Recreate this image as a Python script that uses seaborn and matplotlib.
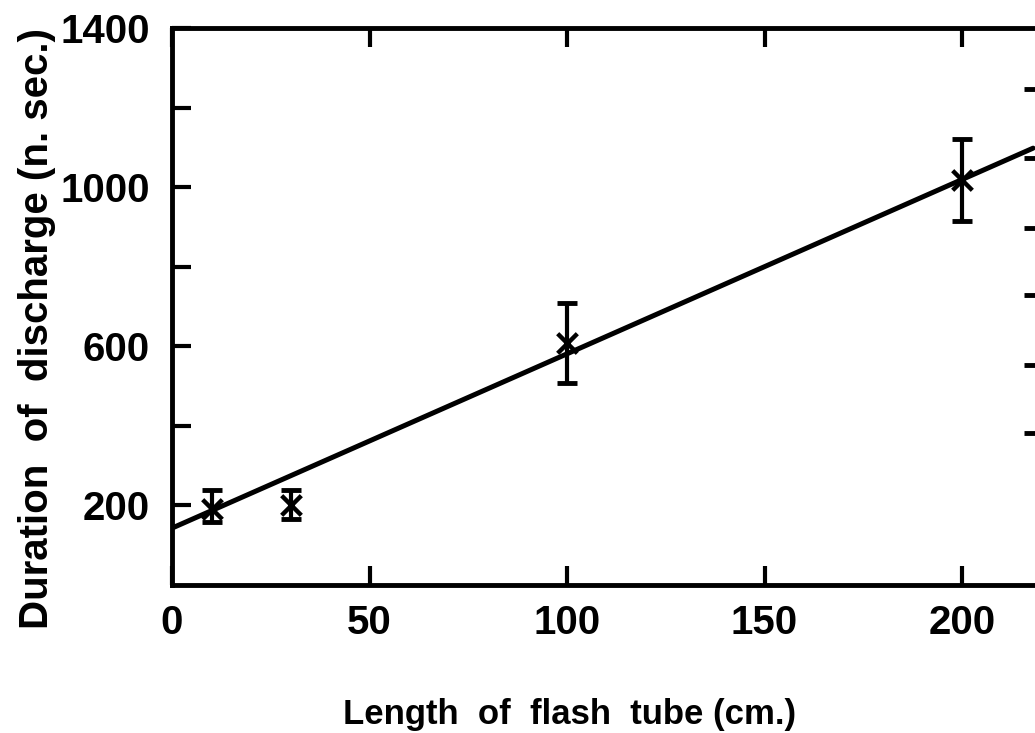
import matplotlib
matplotlib.use("Agg")
import matplotlib.pyplot as plt
import seaborn as sns
import pandas as pd

# measured points (length in cm, duration in ns) with error bar limits
length_cm = [10, 30, 100, 200]
duration_ns = [190, 200, 608, 1018]
err_low = [158, 166, 507, 915]
err_high = [239, 239, 708, 1120]

# fitted straight line, read at both ends of the x range
fit_x = [0, 218]
fit_y = [143, 1098]

# tick values
x_ticks = [0, 50, 100, 150, 200]
y_major = [200, 600, 1000, 1400]
y_minor = [400, 800, 1200]
right_ticks = [382, 553, 729, 897, 1073, 1246]

sns.set_theme(style="ticks")
plt.rcParams["font.family"] = ["Liberation Sans", "DejaVu Sans"]
plt.rcParams["font.weight"] = "bold"
plt.rcParams["axes.labelweight"] = "bold"
plt.rcParams["text.color"] = "black"
plt.rcParams["axes.labelcolor"] = "black"
plt.rcParams["xtick.color"] = "black"
plt.rcParams["ytick.color"] = "black"

fig = plt.figure(figsize=(10.35, 7.33), dpi=100)
ax = fig.add_axes([0.1662, 0.2019, 0.8396, 0.7599])

pts = pd.DataFrame({"x": length_cm, "y": duration_ns})
fit = pd.DataFrame({"x": fit_x, "y": fit_y})

# fitted line, error bars, then the x markers on top
sns.lineplot(data=fit, x="x", y="y", ax=ax, color="black", linewidth=3.6)
yerr = [[d - lo for d, lo in zip(duration_ns, err_low)],
        [hi - d for d, hi in zip(duration_ns, err_high)]]
ax.errorbar(length_cm, duration_ns, yerr=yerr, fmt="none", ecolor="black",
            elinewidth=3, capsize=7, capthick=3.5)
sns.scatterplot(data=pts, x="x", y="y", ax=ax, marker="x", s=200,
                color="black", linewidth=3.2, zorder=5)

ax.set_xlim(0, 220)
ax.set_ylim(0, 1400)
ax.set_xticks(x_ticks)
ax.set_yticks(y_major)
ax.set_yticks(y_minor, minor=True)
ax.set_xticklabels([str(v) for v in x_ticks])
ax.set_yticklabels([str(v) for v in y_major])

for side in ["left", "bottom", "top", "right"]:
    ax.spines[side].set_linewidth(3.5)
    ax.spines[side].set_color("black")

ax.tick_params(axis="both", which="both", direction="in", length=14, width=3,
               color="black", top=True, labelsize=29, pad=14)
ax.tick_params(axis="y", which="both", right=False, pad=16)

# unlabeled inner ticks along the right edge
ax2 = ax.twinx()
ax2.set_ylim(0, 1400)
ax2.set_yticks(right_ticks)
ax2.set_yticklabels([])
ax2.tick_params(axis="y", direction="in", length=12, width=3.5, color="black")
for side in ["left", "bottom", "top", "right"]:
    ax2.spines[side].set_visible(False)

ax.set_xlabel("Length  of  flash  tube (cm.)", fontsize=25)
ax.set_ylabel("Duration  of  discharge (n. sec.)", fontsize=29)
ax.xaxis.set_label_coords(0.457, -0.203)
ax.yaxis.set_label_coords(-0.133, 0.46)

fig.savefig("out.png", dpi=100, facecolor="white")
